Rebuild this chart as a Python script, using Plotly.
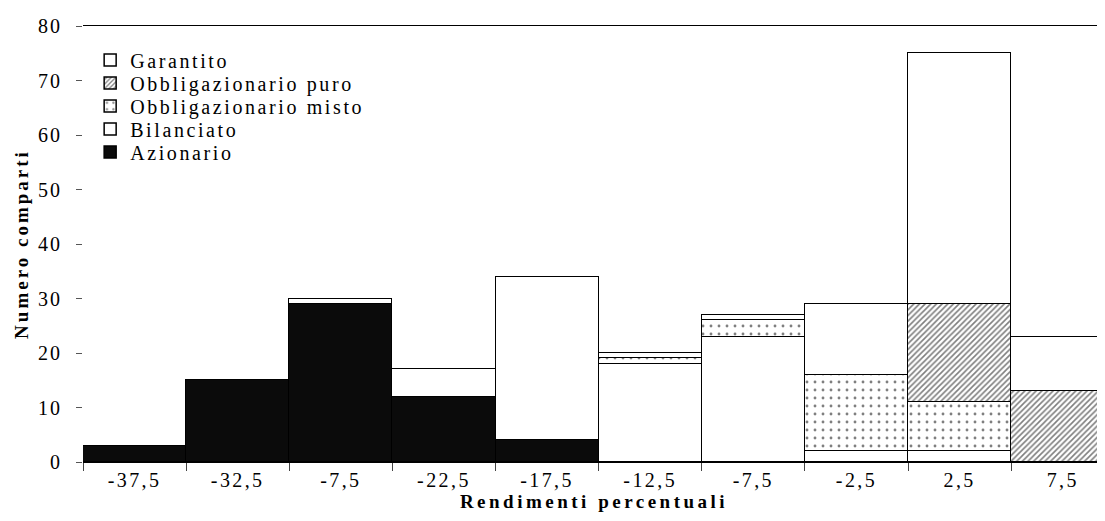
import plotly.graph_objects as go

categories = ["-37,5", "-32,5", "-7,5", "-22,5", "-17,5", "-12,5", "-7,5", "-2,5", "2,5", "7,5"]
azionario = [3, 15, 29, 12, 4, 0, 0, 0, 0, 0]
bilanciato = [0, 0, 1, 5, 30, 18, 23, 2, 2, 0]
obbl_misto = [0, 0, 0, 0, 0, 1, 3, 14, 9, 0]
obbl_puro = [0, 0, 0, 0, 0, 0, 0, 0, 18, 13]
garantito = [0, 0, 0, 0, 0, 1, 1, 13, 46, 10]
y_ticks = [0, 10, 20, 30, 40, 50, 60, 70, 80]

FONT = "Liberation Serif"
W, H = 1097, 513          # page has an 8px body margin
ML, MT, MB = 75, 18, 59
PLOT_H = H - MT - MB
xpos = list(range(len(categories)))


def nz(vals):
    return [v if v else None for v in vals]


# name, values, marker, legend row centre (px from figure top)
series = [
    ("Azionario", azionario, dict(color="#0b0b0b"), 144),
    ("Bilanciato", bilanciato, dict(color="white"), 121),
    ("Obbligazionario misto", obbl_misto,
     dict(color="white", pattern=dict(shape=".", fgcolor="black", bgcolor="white", size=8, solidity=0.1)), 98),
    ("Obbligazionario puro", obbl_puro,
     dict(color="white", pattern=dict(shape="/", fgcolor="black", bgcolor="white", size=4, solidity=0.4)), 75),
    ("Garantito", garantito, dict(color="white"), 52),
]

fig = go.Figure()
legends = {}
for i, (name, vals, mk, row_y) in enumerate(series):
    mk = dict(mk)
    mk["line"] = dict(color="black", width=1.5)
    lg = "legend" if i == 0 else f"legend{i + 1}"
    fig.add_trace(go.Bar(x=xpos, y=nz(vals), name=name, marker=mk, width=1.0, legend=lg))
    legends[lg] = dict(
        x=0.007, y=1 - (row_y - MT) / PLOT_H, xanchor="left", yanchor="middle",
        bgcolor="rgba(0,0,0,0)", borderwidth=0,
        font=dict(family=FONT, size=20, color="black"),
        itemwidth=30,
    )

fig.update_layout(
    barmode="stack",
    bargap=0,
    width=W,
    height=H,
    margin=dict(l=ML, r=0, t=MT, b=MB, autoexpand=False),
    paper_bgcolor="white",
    plot_bgcolor="white",
    font=dict(family=FONT, color="black", size=20),
    showlegend=True,
    xaxis=dict(
        range=[-0.5, 9.41],
        tickmode="array", tickvals=xpos, ticktext=categories,
        ticks="", showgrid=False, zeroline=False,
        showline=True, linecolor="black", linewidth=1.2, mirror=True,
        tickfont=dict(family=FONT, size=20),
        minor=dict(tickmode="linear", tick0=-0.5, dtick=1, ticks="outside",
                   ticklen=8, tickcolor="#444", showgrid=False),
        title=dict(text="<b>Rendimenti percentuali</b>", font=dict(family=FONT, size=19), standoff=2),
        automargin=False,
    ),
    yaxis=dict(
        range=[0, 80],
        tickmode="array", tickvals=y_ticks,
        ticks="outside", ticklen=6, tickcolor="#555", ticklabelstandoff=10,
        showgrid=False, zeroline=False, showline=False,
        tickfont=dict(family=FONT, size=20),
        title=dict(text="<b>Numero comparti</b>", font=dict(family=FONT, size=19), standoff=8),
        automargin=False,
    ),
    **legends,
)

post = """
var st = document.createElement('style');
st.textContent = [
  '.xtick text { letter-spacing: 2.4px; }',
  '.ytick text { letter-spacing: 2px; }',
  'text.legendtext, text.legend2text, text.legend3text, text.legend4text, text.legend5text { letter-spacing: 2.6px; }',
  'g[class^="legend"] .scrollbox text { letter-spacing: 2.6px; }',
  'text.xtitle { letter-spacing: 3.5px; }',
  'text.ytitle { letter-spacing: 3px; }',
  'g[class^="legend"] .scrollbox { clip-path: none !important; }'
].join('\\n');
document.head.appendChild(st);
"""

fig.write_html("out.html", post_script=post)
